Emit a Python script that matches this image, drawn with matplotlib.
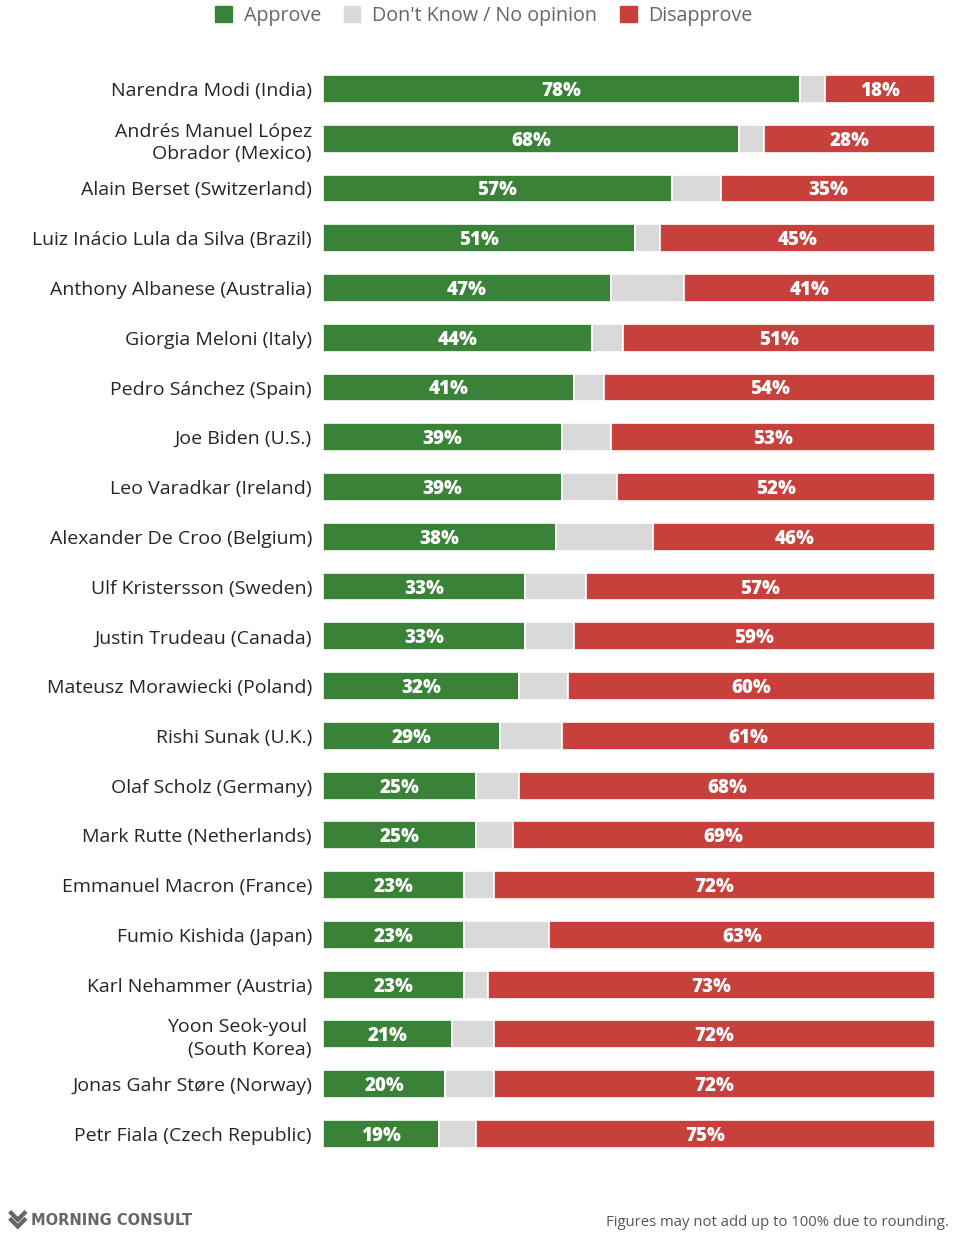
import numpy as np
import matplotlib.pyplot as plt
from matplotlib.patches import Patch
from matplotlib.lines import Line2D

leaders = [
    "Narendra Modi (India)",
    "Andrés Manuel López\nObrador (Mexico)",
    "Alain Berset (Switzerland)",
    "Luiz Inácio Lula da Silva (Brazil)",
    "Anthony Albanese (Australia)",
    "Giorgia Meloni (Italy)",
    "Pedro Sánchez (Spain)",
    "Joe Biden (U.S.)",
    "Leo Varadkar (Ireland)",
    "Alexander De Croo (Belgium)",
    "Ulf Kristersson (Sweden)",
    "Justin Trudeau (Canada)",
    "Mateusz Morawiecki (Poland)",
    "Rishi Sunak (U.K.)",
    "Olaf Scholz (Germany)",
    "Mark Rutte (Netherlands)",
    "Emmanuel Macron (France)",
    "Fumio Kishida (Japan)",
    "Karl Nehammer (Austria)",
    "Yoon Seok-youl \n(South Korea)",
    "Jonas Gahr Støre (Norway)",
    "Petr Fiala (Czech Republic)",
]
approve = [78, 68, 57, 51, 47, 44, 41, 39, 39, 38, 33, 33, 32, 29, 25, 25, 23, 23, 23, 21, 20, 19]
dont_know = [4, 4, 8, 4, 12, 5, 5, 8, 9, 16, 10, 8, 8, 10, 7, 6, 5, 14, 4, 7, 8, 6]
disapprove = [18, 28, 35, 45, 41, 51, 54, 53, 52, 46, 57, 59, 60, 61, 68, 69, 72, 63, 73, 72, 72, 75]

GREEN = "#3a8237"
GRAY = "#d9d9d9"
RED = "#c8403b"

plt.rcParams['font.family'] = ["Open Sans", 'DejaVu Sans']

fig = plt.figure(figsize=(9.62, 12.44), dpi=100)
ax = fig.add_axes([0.3358, 0.0685, 0.636, 0.880])

y = np.arange(len(leaders))
a = np.array(approve)
d = np.array(dont_know)
r = np.array(disapprove)
h = 0.56
ax.barh(y, a, height=h, color=GREEN, edgecolor="white", linewidth=1.2)
ax.barh(y, d, left=a, height=h, color=GRAY, edgecolor="white", linewidth=1.2)
ax.barh(y, r, left=a + d, height=h, color=RED, edgecolor="white", linewidth=1.2)

for i in range(len(leaders)):
    ax.text(a[i] / 2, y[i] + 0.04, f"{a[i]}%", ha="center", va="center",
            color="white", fontsize=13.5, fontweight=800)
    ax.text(a[i] + d[i] + r[i] / 2, y[i] + 0.04, f"{r[i]}%", ha="center", va="center",
            color="white", fontsize=13.5, fontweight=800)

ax.set_xlim(0, 100)
ax.set_ylim(len(leaders) - 0.5, -0.5)
ax.set_yticks(y)
ax.set_yticklabels(leaders, fontsize=14, color="#262626", linespacing=1.3)
ax.tick_params(axis="y", length=0, pad=8)
ax.set_xticks([])
for s in ax.spines.values():
    s.set_visible(False)

handles = [Patch(color=GREEN, label="Approve"),
           Patch(color=GRAY, label="Don't Know / No opinion"),
           Patch(color=RED, label="Disapprove")]
leg = fig.legend(handles=handles, loc="center", bbox_to_anchor=(0.503, 0.987), ncol=3,
                 frameon=False, fontsize=14.2, handlelength=0.85, handleheight=0.85,
                 handletextpad=0.6, columnspacing=1.15)
for t in leg.get_texts():
    t.set_color("#666666")

# logo chevrons
for yy in (0.0205, 0.0150):
    fig.add_artist(Line2D([0.0115, 0.0185, 0.0255], [yy + 0.0045, yy - 0.001, yy + 0.0045],
                          transform=fig.transFigure, color="#666666", lw=3,
                          solid_joinstyle="miter"))
fig.text(0.032, 0.0185, "MORNING CONSULT", fontsize=10.5, color="#666666",
         va="center", ha="left", fontweight="bold", family="DejaVu Sans")
fig.text(0.986, 0.0175, "Figures may not add up to 100% due to rounding.", fontsize=10.7,
         color="#555555", va="center", ha="right")

fig.savefig("out.png", dpi=100, facecolor="white")
